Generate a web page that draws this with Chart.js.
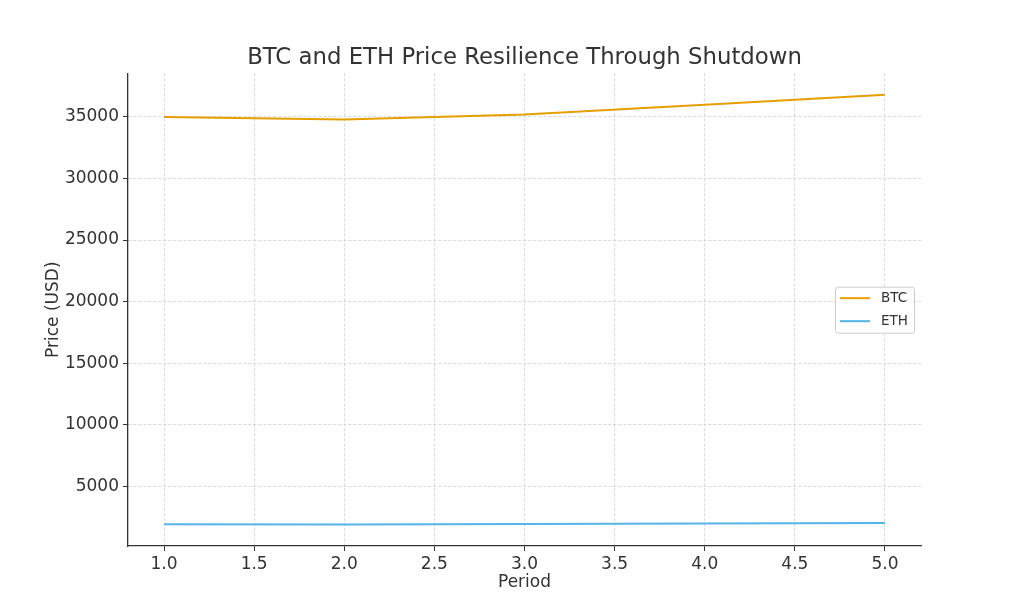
<!DOCTYPE html>
<html>
<head>
<meta charset="utf-8">
<script src="https://cdn.jsdelivr.net/npm/chart.js@4"></script>
<style>
  html, body { margin: 0; padding: 0; background: #fff; }
  #wrap { width: 1024px; height: 614px; }
</style>
</head>
<body>
<div id="wrap"><canvas id="chart" width="1024" height="614"></canvas></div>
<script>
const periods = [1, 2, 3, 4, 5];
const btc = [35000, 34800, 35200, 36000, 36800];
const eth = [1900, 1880, 1920, 1960, 2000];
const xTicks = [1.0, 1.5, 2.0, 2.5, 3.0, 3.5, 4.0, 4.5, 5.0];
const yTicks = [5000, 10000, 15000, 20000, 25000, 30000, 35000];

const textColor = "#333333";
const font = "'DejaVu Sans', sans-serif";

const toPoints = (ys) => periods.map((p, i) => ({ x: p, y: ys[i] }));

// matplotlib style legend, centre right inside the plot
const boxLegend = {
  id: "boxLegend",
  afterDraw(chart) {
    const ctx = chart.ctx;
    const area = chart.chartArea;
    const sets = chart.data.datasets;
    const w = 79, rowH = 23, h = sets.length * rowH;
    const x0 = area.right - 7 - w;
    const y0 = (area.top + area.bottom) / 2 - h / 2;
    ctx.save();
    ctx.fillStyle = "rgba(255,255,255,0.85)";
    ctx.strokeStyle = "#cccccc";
    ctx.lineWidth = 1;
    ctx.beginPath();
    ctx.roundRect(x0 + 0.5, y0 + 0.5, w, h, 3);
    ctx.fill();
    ctx.stroke();
    ctx.font = "13.5px " + font;
    ctx.textBaseline = "middle";
    sets.forEach((ds, i) => {
      const cy = y0 + 11.5 + i * rowH;
      ctx.strokeStyle = ds.borderColor;
      ctx.lineWidth = 2;
      ctx.beginPath();
      ctx.moveTo(x0 + 5, cy);
      ctx.lineTo(x0 + 35, cy);
      ctx.stroke();
      ctx.fillStyle = textColor;
      ctx.fillText(ds.label, x0 + 46, cy);
    });
    ctx.restore();
  }
};

const gridOpts = {
  color: "#cfcfcf",
  lineWidth: 0.8,
  tickColor: textColor,
  tickLength: 5,
  tickWidth: 1,
  tickBorderDash: []
};

new Chart(document.getElementById("chart").getContext("2d"), {
  type: "line",
  data: {
    datasets: [
      {
        label: "BTC",
        data: toPoints(btc),
        borderColor: "#E69F00",
        borderWidth: 2,
        pointRadius: 0,
        tension: 0
      },
      {
        label: "ETH",
        data: toPoints(eth),
        borderColor: "#56B4E9",
        borderWidth: 2,
        pointRadius: 0,
        tension: 0
      }
    ]
  },
  options: {
    responsive: false,
    animation: false,
    layout: { padding: { left: 0, right: 103, top: 0, bottom: 21 } },
    plugins: {
      legend: { display: false },
      tooltip: { enabled: false },
      title: {
        display: true,
        text: "BTC and ETH Price Resilience Through Shutdown",
        fullSize: false,
        color: textColor,
        font: { family: font, size: 22.8, weight: "normal" },
        padding: { top: 44, bottom: 2 }
      }
    },
    scales: {
      x: {
        type: "linear",
        min: 0.8,
        max: 5.2,
        afterBuildTicks: (s) => { s.ticks = xTicks.map(v => ({ value: v })); },
        afterFit: (s) => { s.height = 47; },
        ticks: {
          color: textColor,
          font: { family: font, size: 17 },
          padding: 3,
          maxRotation: 0,
          callback: (v) => Number(v).toFixed(1)
        },
        grid: gridOpts,
        border: { display: true, color: textColor, width: 1.3, dash: [3, 2] },
        title: {
          display: true,
          text: "Period",
          color: textColor,
          font: { family: font, size: 17 },
          padding: { top: 0, bottom: 0 }
        }
      },
      y: {
        type: "linear",
        min: 134,
        max: 38546,
        afterBuildTicks: (s) => { s.ticks = yTicks.map(v => ({ value: v })); },
        afterFit: (s) => { s.width = 128; },
        ticks: {
          color: textColor,
          font: { family: font, size: 17 },
          padding: 4,
          callback: (v) => String(v)
        },
        grid: gridOpts,
        border: { display: true, color: textColor, width: 1.3, dash: [3, 2] },
        title: {
          display: true,
          text: "Price (USD)",
          color: textColor,
          font: { family: font, size: 17 },
          padding: { top: 43, bottom: 0 }
        }
      }
    }
  },
  plugins: [boxLegend]
});
</script>
</body>
</html>
